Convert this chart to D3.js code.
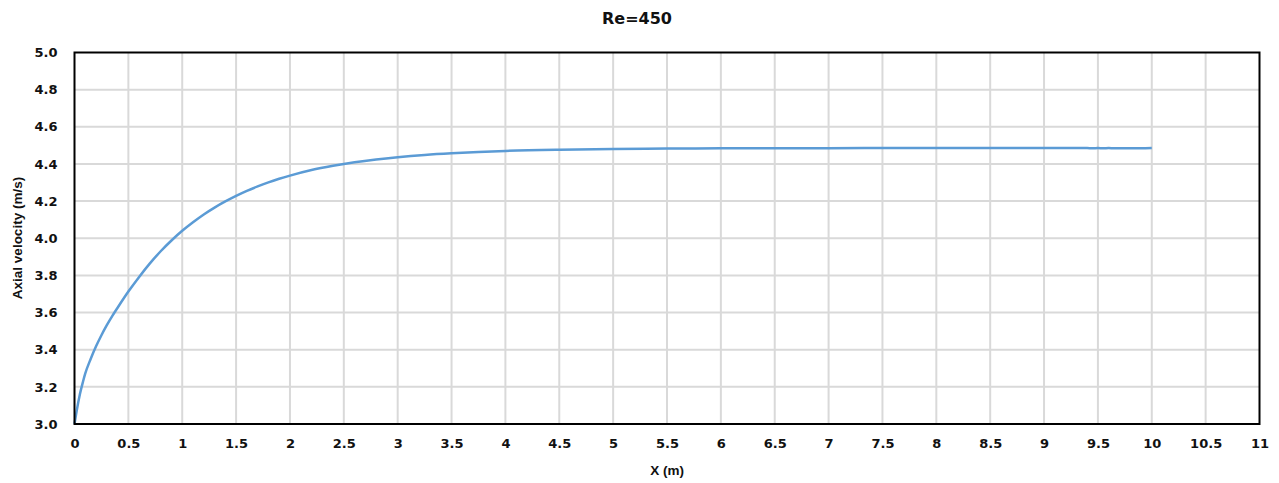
<!DOCTYPE html>
<html>
<head>
<meta charset="utf-8">
<script src="https://cdn.jsdelivr.net/npm/d3@7"></script>
<style>
  body { margin: 0; background: #fff; }
  svg { display: block; }
</style>
</head>
<body>
<div id="chart"></div>
<script>
// axial velocity along the pipe
var xValues = [0, 0.02, 0.05, 0.08, 0.1, 0.15, 0.2, 0.25, 0.3, 0.35, 0.4, 0.5, 0.6, 0.7, 0.8, 0.9,
	1.0, 1.1, 1.2, 1.3, 1.4, 1.5, 1.6, 1.7, 1.8, 1.9, 2.0, 2.2, 2.4, 2.6, 2.8, 3.0, 3.25, 3.5, 3.75,
	4.0, 4.5, 5.0, 5.5, 6.0, 7.0, 8.0, 9.0, 9.4, 9.45, 9.5, 9.55, 9.6, 9.65, 9.7, 9.75, 9.8, 9.9, 10.0];
var velocity = [3.0, 3.07, 3.16, 3.23, 3.272, 3.35, 3.418, 3.478, 3.532, 3.581, 3.626, 3.713, 3.792, 3.865, 3.930, 3.988,
	4.040, 4.086, 4.128, 4.165, 4.198, 4.228, 4.255, 4.279, 4.301, 4.320, 4.337, 4.367, 4.390, 4.409, 4.424, 4.436, 4.448, 4.457, 4.464,
	4.470, 4.477, 4.481, 4.483, 4.484, 4.485, 4.486, 4.486, 4.486, 4.484, 4.486, 4.484, 4.486, 4.484, 4.485, 4.484, 4.485, 4.485, 4.486];
var xTicks = [0, 0.5, 1, 1.5, 2, 2.5, 3, 3.5, 4, 4.5, 5, 5.5, 6, 6.5, 7, 7.5, 8, 8.5, 9, 9.5, 10, 10.5, 11];
var yTicks = [3.0, 3.2, 3.4, 3.6, 3.8, 4.0, 4.2, 4.4, 4.6, 4.8, 5.0];

var width = 1279;
var height = 483;
var margin = { left: 74.5, right: 19.5, top: 52.5, bottom: 59 };

var svg = d3.select('#chart')
	.append('svg')
	.attr('width', width)
	.attr('height', height);

var x = d3.scaleLinear().domain([0, 11]).range([margin.left, width - margin.right]);
var y = d3.scaleLinear().domain([3, 5]).range([height - margin.bottom, margin.top]);

// grid
svg.append('g')
	.selectAll('line.vgrid')
	.data(xTicks.slice(1, -1))
	.enter()
	.append('line')
	.attr('x1', d => x(d)).attr('x2', d => x(d))
	.attr('y1', y(3)).attr('y2', y(5))
	.style('stroke', '#d9d9d9')
	.style('stroke-width', 2);

svg.append('g')
	.selectAll('line.hgrid')
	.data(yTicks.slice(1, -1))
	.enter()
	.append('line')
	.attr('x1', x(0)).attr('x2', x(11))
	.attr('y1', d => y(d)).attr('y2', d => y(d))
	.style('stroke', '#d9d9d9')
	.style('stroke-width', 2);

// data line
var line = d3.line()
	.x((d, i) => x(xValues[i]))
	.y(d => y(d))
	.curve(d3.curveMonotoneX);

svg.append('path')
	.datum(velocity)
	.attr('d', line)
	.style('fill', 'none')
	.style('stroke', '#5b9bd5')
	.style('stroke-width', 2.5);

// frame
svg.append('rect')
	.attr('x', x(0)).attr('y', y(5))
	.attr('width', x(11) - x(0))
	.attr('height', y(3) - y(5))
	.style('fill', 'none')
	.style('stroke', '#000')
	.style('stroke-width', 2);

// axes
var xAxis = svg.append('g')
	.attr('transform', 'translate(0,' + y(3) + ')')
	.call(d3.axisBottom(x).tickValues(xTicks).tickSize(0).tickPadding(15).tickFormat(d3.format('')));
var yAxis = svg.append('g')
	.attr('transform', 'translate(' + x(0) + ',0)')
	.call(d3.axisLeft(y).tickValues(yTicks).tickSize(0).tickPadding(17).tickFormat(d3.format('.1f')));

[xAxis, yAxis].forEach(a => {
	a.select('.domain').remove();
	a.selectAll('text')
		.style('font-family', '"DejaVu Sans", Verdana, sans-serif')
		.style('font-weight', 'bold')
		.style('font-size', '13px')
		.style('fill', '#111');
});

// titles
svg.append('text')
	.attr('x', 637).attr('y', 24)
	.attr('text-anchor', 'middle')
	.style('font-family', '"DejaVu Sans", Verdana, sans-serif')
	.style('font-weight', 'bold')
	.style('font-size', '16px')
	.style('fill', '#111')
	.text('Re=450');

svg.append('text')
	.attr('x', 667).attr('y', 475)
	.attr('text-anchor', 'middle')
	.style('font-family', '"Liberation Sans", Arial, sans-serif')
	.style('font-weight', 'bold')
	.style('font-size', '13.5px')
	.style('fill', '#111')
	.text('X (m)');

svg.append('text')
	.attr('transform', 'translate(22,' + 238 + ') rotate(-90)')
	.attr('text-anchor', 'middle')
	.style('font-family', '"Liberation Sans", Arial, sans-serif')
	.style('font-weight', 'bold')
	.style('font-size', '13.5px')
	.style('fill', '#111')
	.text('Axial velocity (m/s)');
</script>
</body>
</html>
